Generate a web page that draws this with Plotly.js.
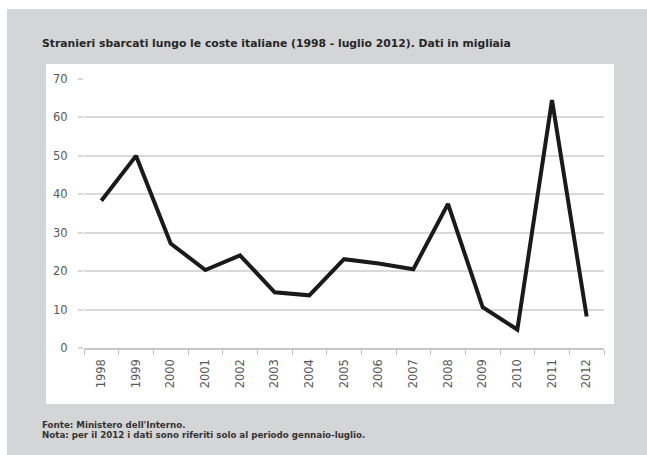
<!DOCTYPE html>
<html>
<head>
<meta charset="utf-8">
<script src="https://cdn.plot.ly/plotly-3.0.1.min.js"></script>
<style>
  html, body { margin: 0; padding: 0; background: #ffffff; }
  #chart { width: 647px; height: 455px; }
</style>
</head>
<body>
<div id="chart"></div>
<script>
// Stranieri sbarcati lungo le coste italiane, migliaia di persone
const years = ['1998', '1999', '2000', '2001', '2002', '2003', '2004', '2005',
               '2006', '2007', '2008', '2009', '2010', '2011', '2012'];
const sbarcati = [38.3, 50.0, 27.2, 20.3, 24.1, 14.5, 13.7, 23.1,
                  22.0, 20.5, 37.5, 10.6, 4.8, 64.5, 8.2];
const yTicks = [0, 10, 20, 30, 40, 50, 60, 70];

const titleText = 'Stranieri sbarcati lungo le coste italiane (1998 - luglio 2012). Dati in migliaia';
const noteSource = "Fonte: Ministero dell'Interno.";
const noteExtra = 'Nota: per il 2012 i dati sono riferiti solo al periodo gennaio-luglio.';

// plot area in pixels: x 84..604, y 79..348
const L = 84, R = 604, T = 79, B = 348, W = 647, H = 455;
const px = x => (x - L) / (R - L);
const py = y => (B - y) / (B - T);

const textFont = '"DejaVu Sans", Verdana, sans-serif';

const trace = {
  type: 'scatter',
  mode: 'lines',
  x: years,
  y: sbarcati,
  line: { color: '#1a1a1a', width: 4 },
  hoverinfo: 'x+y'
};

const layout = {
  width: W,
  height: H,
  margin: { l: L, r: W - R, t: T, b: H - B, pad: 0 },
  paper_bgcolor: '#ffffff',
  plot_bgcolor: 'rgba(0,0,0,0)',
  showlegend: false,
  font: { family: textFont, color: '#595959' },
  xaxis: {
    type: 'category',
    range: [-0.5, years.length - 0.5],
    tickson: 'boundaries',
    ticks: 'outside',
    ticklen: 5,
    tickwidth: 1,
    tickcolor: '#bfbfbf',
    showline: true,
    linecolor: '#c8c8c8',
    linewidth: 1.5,
    showgrid: false,
    zeroline: false,
    tickangle: -90,
    ticklabelstandoff: 5,
    tickfont: { family: textFont, size: 11.5, color: '#595959' },
    fixedrange: true
  },
  yaxis: {
    range: [0, 70],
    tickvals: yTicks,
    ticks: 'outside',
    ticklen: 5,
    tickwidth: 2,
    tickcolor: '#d9d9d9',
    showline: false,
    zeroline: false,
    showgrid: true,
    gridcolor: '#d9d9d9',
    gridwidth: 2,
    ticklabelstandoff: 8,
    tickfont: { family: textFont, size: 11.5, color: '#595959' },
    fixedrange: true
  },
  shapes: [
    // grey frame
    { type: 'rect', xref: 'paper', yref: 'paper', layer: 'below',
      x0: px(7), x1: px(647), y0: py(455), y1: py(9),
      fillcolor: '#d4d5d7', line: { width: 0 } },
    // white chart panel
    { type: 'rect', xref: 'paper', yref: 'paper', layer: 'below',
      x0: px(46), x1: px(614), y0: py(404), y1: py(64),
      fillcolor: '#ffffff', line: { width: 0 } }
  ],
  annotations: [
    { xref: 'paper', yref: 'paper', x: px(40), y: py(43),
      xanchor: 'left', yanchor: 'middle', showarrow: false,
      text: '<b>' + titleText + '</b>',
      font: { family: textFont, size: 10.8, color: '#262626' } },
    { xref: 'paper', yref: 'paper', x: px(40), y: py(425),
      xanchor: 'left', yanchor: 'middle', showarrow: false,
      text: '<b>' + noteSource + '</b>',
      font: { family: textFont, size: 8.7, color: '#333333' } },
    { xref: 'paper', yref: 'paper', x: px(40), y: py(435),
      xanchor: 'left', yanchor: 'middle', showarrow: false,
      text: '<b>' + noteExtra + '</b>',
      font: { family: textFont, size: 8.7, color: '#333333' } }
  ]
};

Plotly.newPlot('chart', [trace], layout, { staticPlot: true, displayModeBar: false });
</script>
</body>
</html>
